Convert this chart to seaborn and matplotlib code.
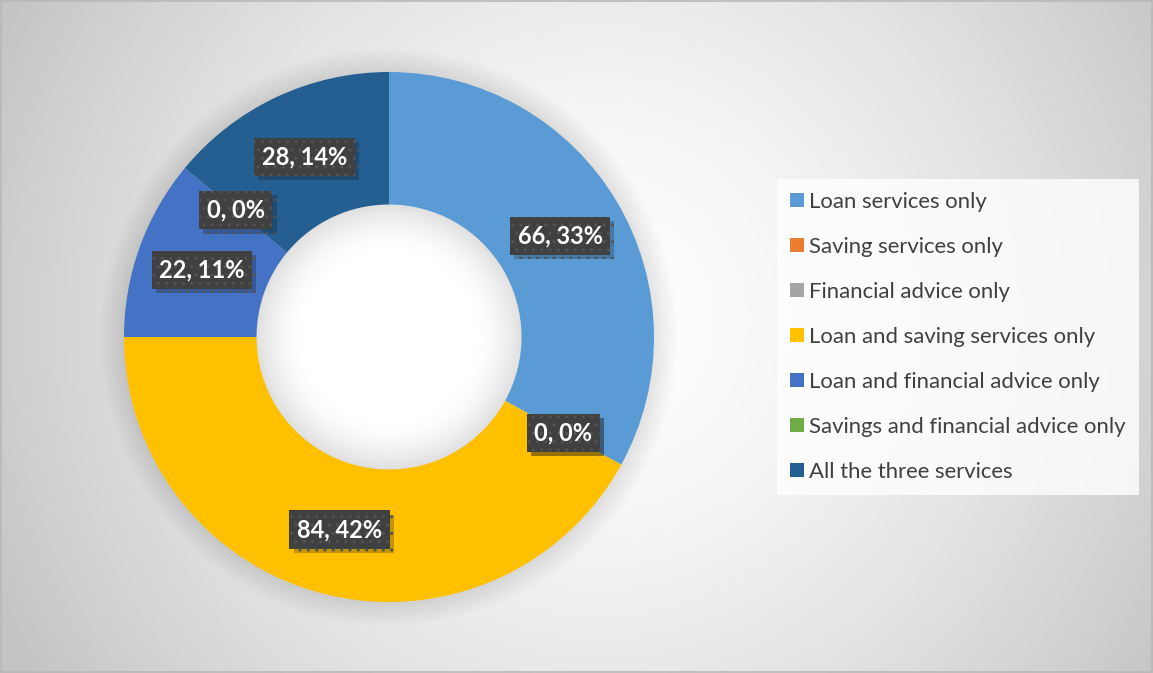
from matplotlib import pyplot as plt
from matplotlib.patches import Rectangle, Circle
import matplotlib.patheffects as pe
import seaborn as sns
import numpy as np

categorias = [
    "Loan services only",
    "Saving services only",
    "Financial advice only",
    "Loan and saving services only",
    "Loan and financial advice only",
    "Savings and financial advice only",
    "All the three services",
]
valores = [66, 0, 0, 84, 22, 0, 28]
cores = ["#5B9BD5", "#ED7D31", "#A5A5A5", "#FFC000", "#4472C4", "#70AD47", "#255E91"]

sns.set_style("white")
plt.rcParams["font.family"] = ["Lato", "DejaVu Sans"]

W, H = 1153, 673
fig = plt.figure(figsize=(W / 100, H / 100), dpi=100)

# fundo com gradiente radial
fundo = fig.add_axes([0, 0, 1, 1], zorder=-5)
yy, xx = np.mgrid[0:H, 0:W]
dist = np.sqrt((xx - 600.0) ** 2 + (yy - 320.0) ** 2) / 650.0
tom = np.clip(1.0 - 0.22 * dist ** 1.5, 0.77, 1.0)
fundo.imshow(np.dstack([tom, tom, tom]), extent=[0, W, H, 0], aspect="auto", interpolation="bilinear")
fundo.set_xlim(0, W)
fundo.set_ylim(H, 0)
fundo.axis("off")
fundo.add_patch(Rectangle((0.5, 0.5), W - 1.5, H - 1.5, fill=False, edgecolor="#b8b8b8", linewidth=1.2))

# donut
cx, cy, r = 389, 337, 265
ax = fig.add_axes([(cx - r) / W, (H - cy - r) / H, 2 * r / W, 2 * r / H])
ax.set_xlim(-1, 1)
ax.set_ylim(-1, 1)

# sombra suave em volta do anel
for k in range(1, 9):
    ax.add_patch(Circle((0, 0), 1 + 0.011 * k, facecolor="black", alpha=0.012,
                        linewidth=0, zorder=0, clip_on=False))

wedges, _ = ax.pie(
    valores,
    colors=cores,
    startangle=90,
    counterclock=False,
    radius=1,
    wedgeprops=dict(width=0.5, edgecolor="none", linewidth=0, zorder=2),
)

# furo branco com sombra interna
gy, gx = np.mgrid[-0.5:0.5:200j, -0.5:0.5:200j]
gr = np.sqrt(gx ** 2 + gy ** 2)
furo = np.clip(1.0 - 0.12 * np.clip((gr - 0.33) / 0.17, 0, 1) ** 1.6, 0, 1)
im = ax.imshow(np.dstack([furo, furo, furo]), extent=[-0.5, 0.5, -0.5, 0.5], zorder=1, interpolation="bilinear")
im.set_clip_path(Circle((0, 0), 0.5, transform=ax.transData))

ax.set_xlim(-1, 1)
ax.set_ylim(-1, 1)
ax.set_aspect("equal")
ax.axis("off")

total = sum(valores)
inicio = 90.0
for v in valores:
    ang = inicio - 360.0 * v / total / 2
    inicio -= 360.0 * v / total
    x = 0.75 * np.cos(np.radians(ang))
    y = 0.75 * np.sin(np.radians(ang))
    t = ax.text(
        x, y, f"{v}, {round(100 * v / total)}%", ha="center", va="center",
        fontsize=17, fontweight="bold", color="white", zorder=5,
        bbox=dict(boxstyle="square,pad=0.32", facecolor="#404040", edgecolor="#535353",
                  hatch="..", linewidth=0),
    )
    t.get_bbox_patch().set_path_effects([pe.SimplePatchShadow(offset=(3, -3), alpha=0.25), pe.Normal()])

leg = fig.legend(
    wedges, categorias,
    loc="upper left", bbox_to_anchor=(777 / W, 1 - 179 / H), borderaxespad=0,
    fontsize=15.9, frameon=True, fancybox=False,
    handlelength=0.6, handleheight=0.6, handletextpad=0.25,
    labelspacing=1.13, borderpad=0.6,
)
leg.get_frame().set_facecolor((1, 1, 1, 0.22))
leg.get_frame().set_edgecolor("none")
for t in leg.get_texts():
    t.set_color("#404040")

fig.savefig("out.png", dpi=100)
